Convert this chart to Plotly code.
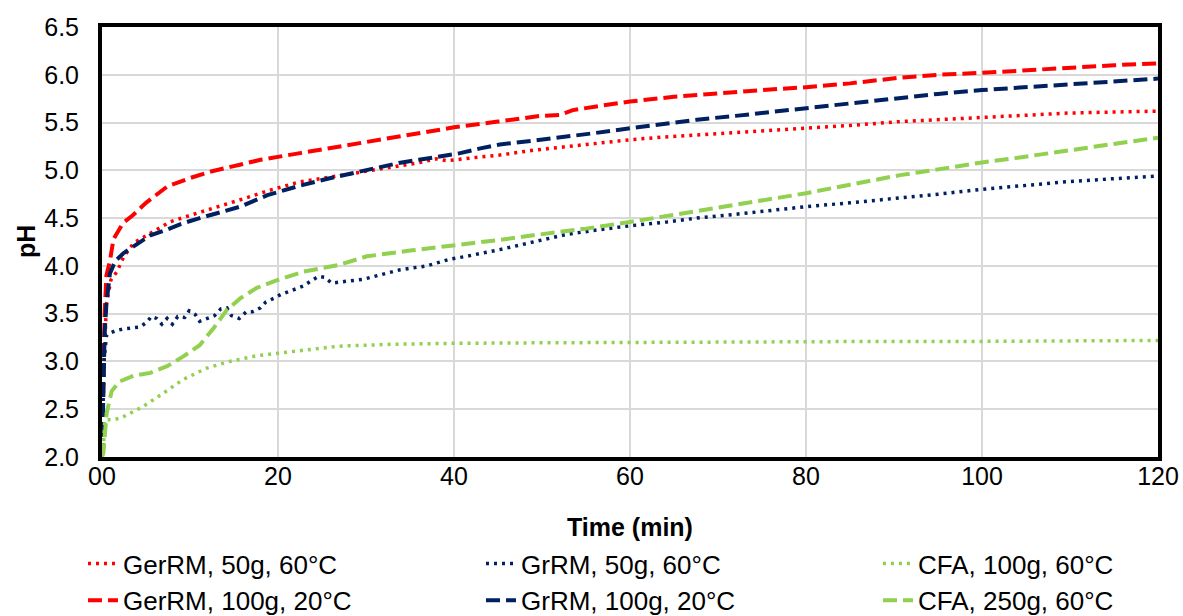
import plotly.graph_objects as go

# ---- data ----
t_ger50 = [0, 0.2, 0.5, 1, 1.7, 2.5, 3.6, 5.5, 7.7, 10.4, 13, 16, 19, 22.5, 26, 30, 33, 36, 38, 39.2,
           42, 45.2, 49, 52.8, 56, 60, 64, 67.6, 72, 76, 80, 85, 90.7, 95, 100, 105, 110, 115, 120]
ph_ger50 = [2.0, 2.9, 3.6, 3.85, 3.94, 4.1, 4.24, 4.34, 4.46, 4.54, 4.61, 4.70, 4.79, 4.88, 4.93, 4.99,
            5.04, 5.08, 5.12, 5.10, 5.13, 5.16, 5.21, 5.25, 5.28, 5.32, 5.35, 5.37, 5.40, 5.42, 5.44,
            5.47, 5.51, 5.53, 5.56, 5.58, 5.60, 5.61, 5.62]

t_ger100 = [0, 0.15, 0.3, 0.5, 0.9, 1.3, 2.4, 3.5, 5, 7.4, 10, 12.5, 14.9, 18, 22.5, 27, 31.6, 36, 40,
            45, 49.8, 52, 53.5, 57, 60, 65, 70, 75, 80, 85, 90.7, 95, 100, 105, 110, 115, 120]
ph_ger100 = [2.0, 2.8, 3.5, 3.9, 4.05, 4.28, 4.45, 4.53, 4.66, 4.83, 4.92, 4.99, 5.04, 5.11, 5.18, 5.25,
             5.32, 5.39, 5.45, 5.51, 5.57, 5.58, 5.63, 5.68, 5.72, 5.77, 5.81, 5.84, 5.87, 5.91, 5.97,
             6.00, 6.02, 6.05, 6.08, 6.10, 6.12]

t_gr50 = [0, 0.2, 0.53, 1.5, 2.4, 3.4, 4.3, 5.1, 5.6, 6.2, 6.8, 7.4, 8.0, 8.6, 9.4, 9.9, 10.6, 11.1,
          12.1, 12.8, 13.5, 14.2, 14.7, 15.6, 16.4, 17.1, 18.0, 18.6, 19.5, 20.3, 21.2, 22.0, 22.9,
          23.7, 24.6, 25.3, 26.1, 27, 29.7, 33.9, 36.9, 39.5, 41.4, 45.2, 49, 52.8, 56.6, 60, 64.2,
          67.6, 72, 76, 80, 85, 90.7, 95, 99.8, 104.7, 109.6, 114.5, 120]
ph_gr50 = [2.0, 3.0, 3.28, 3.32, 3.34, 3.35, 3.36, 3.41, 3.47, 3.45, 3.39, 3.45, 3.39, 3.47, 3.46, 3.53,
           3.49, 3.42, 3.45, 3.48, 3.55, 3.56, 3.48, 3.45, 3.52, 3.52, 3.56, 3.62, 3.66, 3.70, 3.73,
           3.76, 3.79, 3.84, 3.89, 3.88, 3.82, 3.83, 3.86, 3.96, 4.00, 4.07, 4.10, 4.17, 4.25, 4.33,
           4.38, 4.42, 4.46, 4.50, 4.54, 4.58, 4.62, 4.66, 4.71, 4.75, 4.80, 4.84, 4.88, 4.91, 4.94]

t_gr100 = [0, 0.15, 0.3, 0.5, 0.9, 1.5, 2.4, 3.2, 4.3, 5.5, 7.4, 9, 11.1, 14, 15.7, 18.8, 22.5, 26,
           30, 33.9, 36, 38, 40.7, 43, 45.2, 49, 52.8, 56, 60, 64, 67.6, 72, 76, 80, 85, 90.7, 95,
           100, 105, 110, 115, 120]
ph_gr100 = [2.0, 2.6, 3.3, 3.6, 3.92, 4.05, 4.13, 4.18, 4.25, 4.32, 4.38, 4.44, 4.50, 4.58, 4.62, 4.74,
            4.84, 4.92, 5.00, 5.08, 5.11, 5.14, 5.18, 5.23, 5.27, 5.31, 5.35, 5.39, 5.44, 5.49, 5.53,
            5.57, 5.61, 5.65, 5.70, 5.76, 5.80, 5.84, 5.87, 5.90, 5.93, 5.96]

t_cfa100 = [0, 0.15, 0.34, 1.3, 2.2, 4.7, 7.0, 9.2, 11.9, 14.5, 17.6, 21.4, 26.9, 33, 40, 50, 60, 70,
            80, 90, 100, 110, 120]
ph_cfa100 = [2.0, 2.11, 2.39, 2.39, 2.41, 2.53, 2.67, 2.81, 2.93, 3.00, 3.06, 3.10, 3.16, 3.18, 3.19,
             3.195, 3.20, 3.20, 3.21, 3.21, 3.21, 3.215, 3.22]

t_cfa250 = [0, 0.15, 0.53, 1.1, 2.0, 3.6, 5.5, 7.4, 9.2, 11.1, 12.7, 14.2, 15.7, 17.6, 19.9, 22.9, 26.9,
            30.1, 35, 40, 45, 49, 55, 60, 64, 67.6, 72, 76, 80, 85, 90.7, 95, 99.8, 104.7, 109.6,
            114.5, 120]
ph_cfa250 = [2.0, 2.04, 2.46, 2.69, 2.79, 2.85, 2.88, 2.95, 3.05, 3.17, 3.35, 3.54, 3.66, 3.77, 3.85,
             3.94, 4.01, 4.10, 4.16, 4.21, 4.27, 4.32, 4.39, 4.46, 4.52, 4.57, 4.63, 4.70, 4.76, 4.85,
             4.95, 5.01, 5.08, 5.14, 5.21, 5.27, 5.34]

x_tickvals = [0, 20, 40, 60, 80, 100, 120]
x_ticktext = ["00", "20", "40", "60", "80", "100", "120"]
x_title = "Time (min)"
y_title = "pH"

RED = "#FF0000"
NAVY = "#002060"
GREEN = "#92D050"
DOT = "3px,5px"
DASH = "14px,6px"
FONT = "Arial, Liberation Sans, sans-serif"

series = [
    ("GerRM, 50g, 60°C", t_ger50, ph_ger50, RED, DOT, 3.5, "legend"),
    ("GerRM, 100g, 20°C", t_ger100, ph_ger100, RED, DASH, 4, "legend"),
    ("GrRM, 50g, 60°C", t_gr50, ph_gr50, NAVY, DOT, 3.5, "legend2"),
    ("GrRM, 100g, 20°C", t_gr100, ph_gr100, NAVY, DASH, 4, "legend2"),
    ("CFA, 100g, 60°C", t_cfa100, ph_cfa100, GREEN, DOT, 3.5, "legend3"),
    ("CFA, 250g, 60°C", t_cfa250, ph_cfa250, GREEN, DASH, 4, "legend3"),
]

fig = go.Figure()
for name, tx, py, col, dash, w, lg in series:
    fig.add_trace(go.Scatter(x=tx, y=py, mode="lines", name=name,
                             line=dict(color=col, dash=dash, width=w),
                             legend=lg, legendgroup=name))

W, H = 1183, 616
L, R, T, B = 102, 25, 27, 159
PW = W - L - R
PH = H - T - B

legend_common = dict(font=dict(family=FONT, size=26, color="black"),
                     orientation="v", xref="container", yref="container",
                     xanchor="left", yanchor="top", bgcolor="rgba(0,0,0,0)",
                     tracegroupgap=10, traceorder="normal")
top_y = 1 - 540 / H
fig.update_layout(
    width=W, height=H,
    margin=dict(l=L, r=R, t=T, b=B, autoexpand=False),
    paper_bgcolor="white", plot_bgcolor="white",
    font=dict(family=FONT, size=25, color="black"),
    showlegend=True,
    legend=dict(**legend_common, x=83 / W, y=top_y),
    legend2=dict(**legend_common, x=481 / W, y=top_y),
    legend3=dict(**legend_common, x=878 / W, y=top_y),
    xaxis=dict(range=[0, 120], tickvals=x_tickvals, ticktext=x_ticktext,
               showgrid=True, gridcolor="#D9D9D9", gridwidth=2,
               showline=True, linecolor="black", linewidth=4, mirror=True,
               ticks="", zeroline=False, ticklabelstandoff=-6, automargin=False,
               tickfont=dict(family=FONT, size=25, color="black")),
    yaxis=dict(range=[2, 6.5], dtick=0.5, tick0=2, tickformat=".1f",
               showgrid=True, gridcolor="#D9D9D9", gridwidth=2,
               showline=True, linecolor="black", linewidth=4, mirror=True,
               ticks="", zeroline=False, ticklabelstandoff=14, automargin=False,
               tickfont=dict(family=FONT, size=25, color="black")),
    annotations=[
        dict(text="<b>" + x_title + "</b>", xref="paper", yref="paper",
             x=0.5, y=-(527 - (T + PH)) / PH, xanchor="center", yanchor="middle",
             showarrow=False, font=dict(family=FONT, size=25, color="black")),
        dict(text="<b>" + y_title + "</b>", xref="paper", yref="paper",
             x=-(L - 26) / PW, y=0.5, xanchor="center", yanchor="middle",
             textangle=-90, showarrow=False,
             font=dict(family=FONT, size=25, color="black")),
    ],
)

fig.write_html("out.html")
